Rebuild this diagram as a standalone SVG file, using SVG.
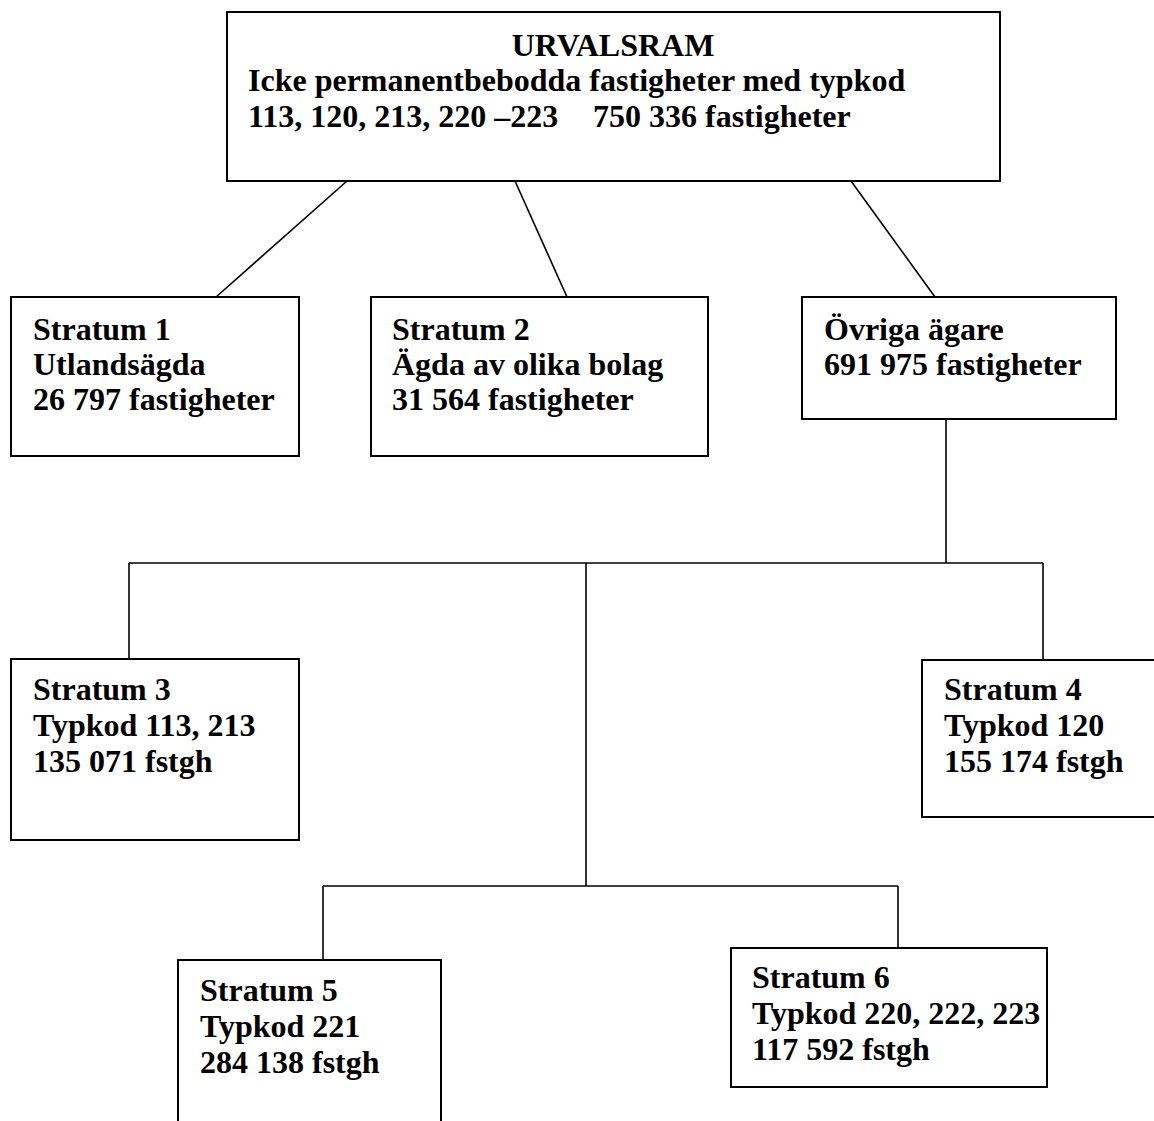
<svg xmlns="http://www.w3.org/2000/svg" width="1154" height="1121" viewBox="0 0 1154 1121">
<style>
.box{fill:#fff;stroke:#000;stroke-width:2}
.ln{stroke:#000;stroke-width:1.6;fill:none}
text{font-family:"Liberation Serif","Times New Roman",serif;font-weight:bold;font-size:32px;fill:#000}
</style>
<rect width="1154" height="1121" fill="#fff"/>
<g id="connectors">
<line class="ln" x1="347" y1="181" x2="216" y2="297"/>
<line class="ln" x1="515" y1="181" x2="567" y2="297"/>
<line class="ln" x1="851" y1="181" x2="935" y2="297"/>
<line class="ln" x1="946" y1="419" x2="946" y2="563"/>
<line class="ln" x1="129" y1="563" x2="1043" y2="563"/>
<line class="ln" x1="129" y1="563" x2="129" y2="659"/>
<line class="ln" x1="1043" y1="563" x2="1043" y2="660"/>
<line class="ln" x1="586" y1="563" x2="586" y2="886"/>
<line class="ln" x1="323" y1="886" x2="898" y2="886"/>
<line class="ln" x1="323" y1="886" x2="323" y2="960"/>
<line class="ln" x1="898" y1="886" x2="898" y2="948"/>
</g>
<g id="urvalsram">
<rect class="box" x="227" y="12" width="773" height="169"/>
<text x="613" y="56" text-anchor="middle">URVALSRAM</text>
<text x="248" y="91">Icke permanentbebodda fastigheter med typkod</text>
<text y="127"><tspan x="248">113, 120, 213, 220 –223</tspan><tspan x="593">750 336 fastigheter</tspan></text>
</g>
<g id="stratum1">
<rect class="box" x="11" y="297" width="288" height="159"/>
<text x="33" y="340">Stratum 1</text>
<text x="33" y="375">Utlandsägda</text>
<text x="33" y="410">26 797 fastigheter</text>
</g>
<g id="stratum2">
<rect class="box" x="371" y="297" width="337" height="159"/>
<text x="392" y="340">Stratum 2</text>
<text x="392" y="375">Ägda av olika bolag</text>
<text x="392" y="410">31 564 fastigheter</text>
</g>
<g id="ovriga">
<rect class="box" x="802" y="297" width="314" height="122"/>
<text x="824" y="340">Övriga ägare</text>
<text x="824" y="375">691 975 fastigheter</text>
</g>
<g id="stratum3">
<rect class="box" x="11" y="659" width="288" height="181"/>
<text x="33" y="700">Stratum 3</text>
<text x="33" y="736">Typkod 113, 213</text>
<text x="33" y="772">135 071 fstgh</text>
</g>
<g id="stratum4">
<rect class="box" x="922" y="660" width="240" height="157"/>
<text x="944" y="700">Stratum 4</text>
<text x="944" y="736">Typkod 120</text>
<text x="944" y="772">155 174 fstgh</text>
</g>
<g id="stratum5">
<rect class="box" x="178" y="960" width="263" height="180"/>
<text x="200" y="1001">Stratum 5</text>
<text x="200" y="1037">Typkod 221</text>
<text x="200" y="1073">284 138 fstgh</text>
</g>
<g id="stratum6">
<rect class="box" x="731" y="948" width="316" height="139"/>
<text x="752" y="988">Stratum 6</text>
<text x="752" y="1024">Typkod 220, 222, 223</text>
<text x="752" y="1060">117 592 fstgh</text>
</g>
</svg>
